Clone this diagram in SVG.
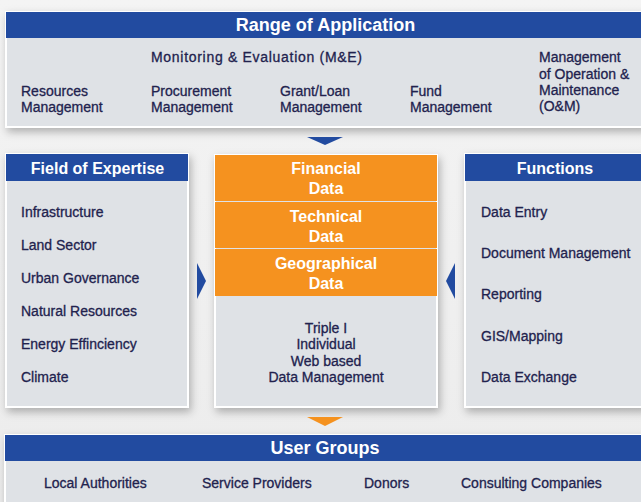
<svg xmlns="http://www.w3.org/2000/svg" width="641" height="502" viewBox="0 0 641 502">
<defs>
<filter id="sh" x="-10%" y="-10%" width="130%" height="130%">
<feDropShadow dx="2" dy="4" stdDeviation="4" flood-color="#000" flood-opacity="0.28"/>
</filter>
<linearGradient id="bg" x1="0" y1="0" x2="0" y2="1">
<stop offset="0" stop-color="#f4f4f4"/>
<stop offset="1" stop-color="#ececec"/>
</linearGradient>
</defs>
<style>
.body{fill:#dfe2e6;stroke:#ffffff;stroke-width:2}
.hdr{fill:#224ba0}
.org{fill:#f5921f}
.ht{font-family:"Liberation Sans",Arial,sans-serif;font-weight:bold;fill:#ffffff;text-anchor:middle}
.t{font-family:"Liberation Sans",Arial,sans-serif;font-size:14px;fill:#22224e;stroke:#22224e;stroke-width:0.3}
.c{text-anchor:middle}
</style>
<rect x="0" y="0" width="641" height="502" fill="url(#bg)"/>

<g id="range">
<rect class="body" x="6" y="12" width="640" height="115" filter="url(#sh)"/>
<rect class="hdr" x="6" y="12" width="640" height="26"/>
<text class="ht" x="325.5" y="31" font-size="18">Range of Application</text>
<text class="t" x="151" y="62" letter-spacing="0.7">Monitoring &amp; Evaluation (M&amp;E)</text>
<text class="t" x="21" y="96">Resources</text>
<text class="t" x="21" y="112">Management</text>
<text class="t" x="151" y="96">Procurement</text>
<text class="t" x="151" y="112">Management</text>
<text class="t" x="280" y="96">Grant/Loan</text>
<text class="t" x="280" y="112">Management</text>
<text class="t" x="410" y="96">Fund</text>
<text class="t" x="410" y="112">Management</text>
<text class="t" x="539" y="62">Management</text>
<text class="t" x="539" y="79">of Operation &amp;</text>
<text class="t" x="539" y="95">Maintenance</text>
<text class="t" x="539" y="111">(O&amp;M)</text>
</g>

<g id="field">
<rect class="body" x="6" y="154" width="182" height="253" filter="url(#sh)"/>
<rect class="hdr" x="6" y="154" width="182" height="27"/>
<text class="ht" x="97.5" y="174" font-size="16">Field of Expertise</text>
<text class="t" x="21" y="217">Infrastructure</text>
<text class="t" x="21" y="250">Land Sector</text>
<text class="t" x="21" y="283">Urban Governance</text>
<text class="t" x="21" y="316">Natural Resources</text>
<text class="t" x="21" y="349">Energy Effinciency</text>
<text class="t" x="21" y="382">Climate</text>
</g>

<g id="center">
<rect class="body" x="215" y="155" width="222" height="252" filter="url(#sh)"/>
<rect class="org" x="215" y="155" width="222" height="46"/>
<rect class="org" x="215" y="202" width="222" height="46"/>
<rect class="org" x="215" y="249" width="222" height="47"/>
<text class="ht" x="326" y="174" font-size="16">Financial</text>
<text class="ht" x="326" y="194" font-size="16">Data</text>
<text class="ht" x="326" y="222" font-size="16">Technical</text>
<text class="ht" x="326" y="242" font-size="16">Data</text>
<text class="ht" x="326" y="269" font-size="16">Geographical</text>
<text class="ht" x="326" y="289" font-size="16">Data</text>
<text class="t c" x="326" y="333">Triple I</text>
<text class="t c" x="326" y="349">Individual</text>
<text class="t c" x="326" y="366">Web based</text>
<text class="t c" x="326" y="382">Data Management</text>
</g>

<g id="functions">
<rect class="body" x="465" y="154" width="181" height="253" filter="url(#sh)"/>
<rect class="hdr" x="465" y="154" width="181" height="27"/>
<text class="ht" x="555" y="174" font-size="16">Functions</text>
<text class="t" x="481" y="217">Data Entry</text>
<text class="t" x="481" y="258">Document Management</text>
<text class="t" x="481" y="299">Reporting</text>
<text class="t" x="481" y="341">GIS/Mapping</text>
<text class="t" x="481" y="382">Data Exchange</text>
</g>

<g id="users">
<rect class="body" x="5" y="435" width="641" height="80" filter="url(#sh)"/>
<rect class="hdr" x="5" y="435" width="641" height="26"/>
<text class="ht" x="325" y="454" font-size="18">User Groups</text>
<text class="t" x="44" y="488">Local Authorities</text>
<text class="t" x="202" y="488">Service Providers</text>
<text class="t" x="364" y="488">Donors</text>
<text class="t" x="461" y="488">Consulting Companies</text>
</g>

<g id="connectors">
<polygon points="307,137 343,137 325,145" fill="#224ba0"/>
<polygon points="197,263 206,281 197,299" fill="#224ba0"/>
<polygon points="455,263 446,281 455,299" fill="#224ba0"/>
<polygon points="307,417 343,417 325,426" fill="#f5921f"/>
</g>
</svg>
